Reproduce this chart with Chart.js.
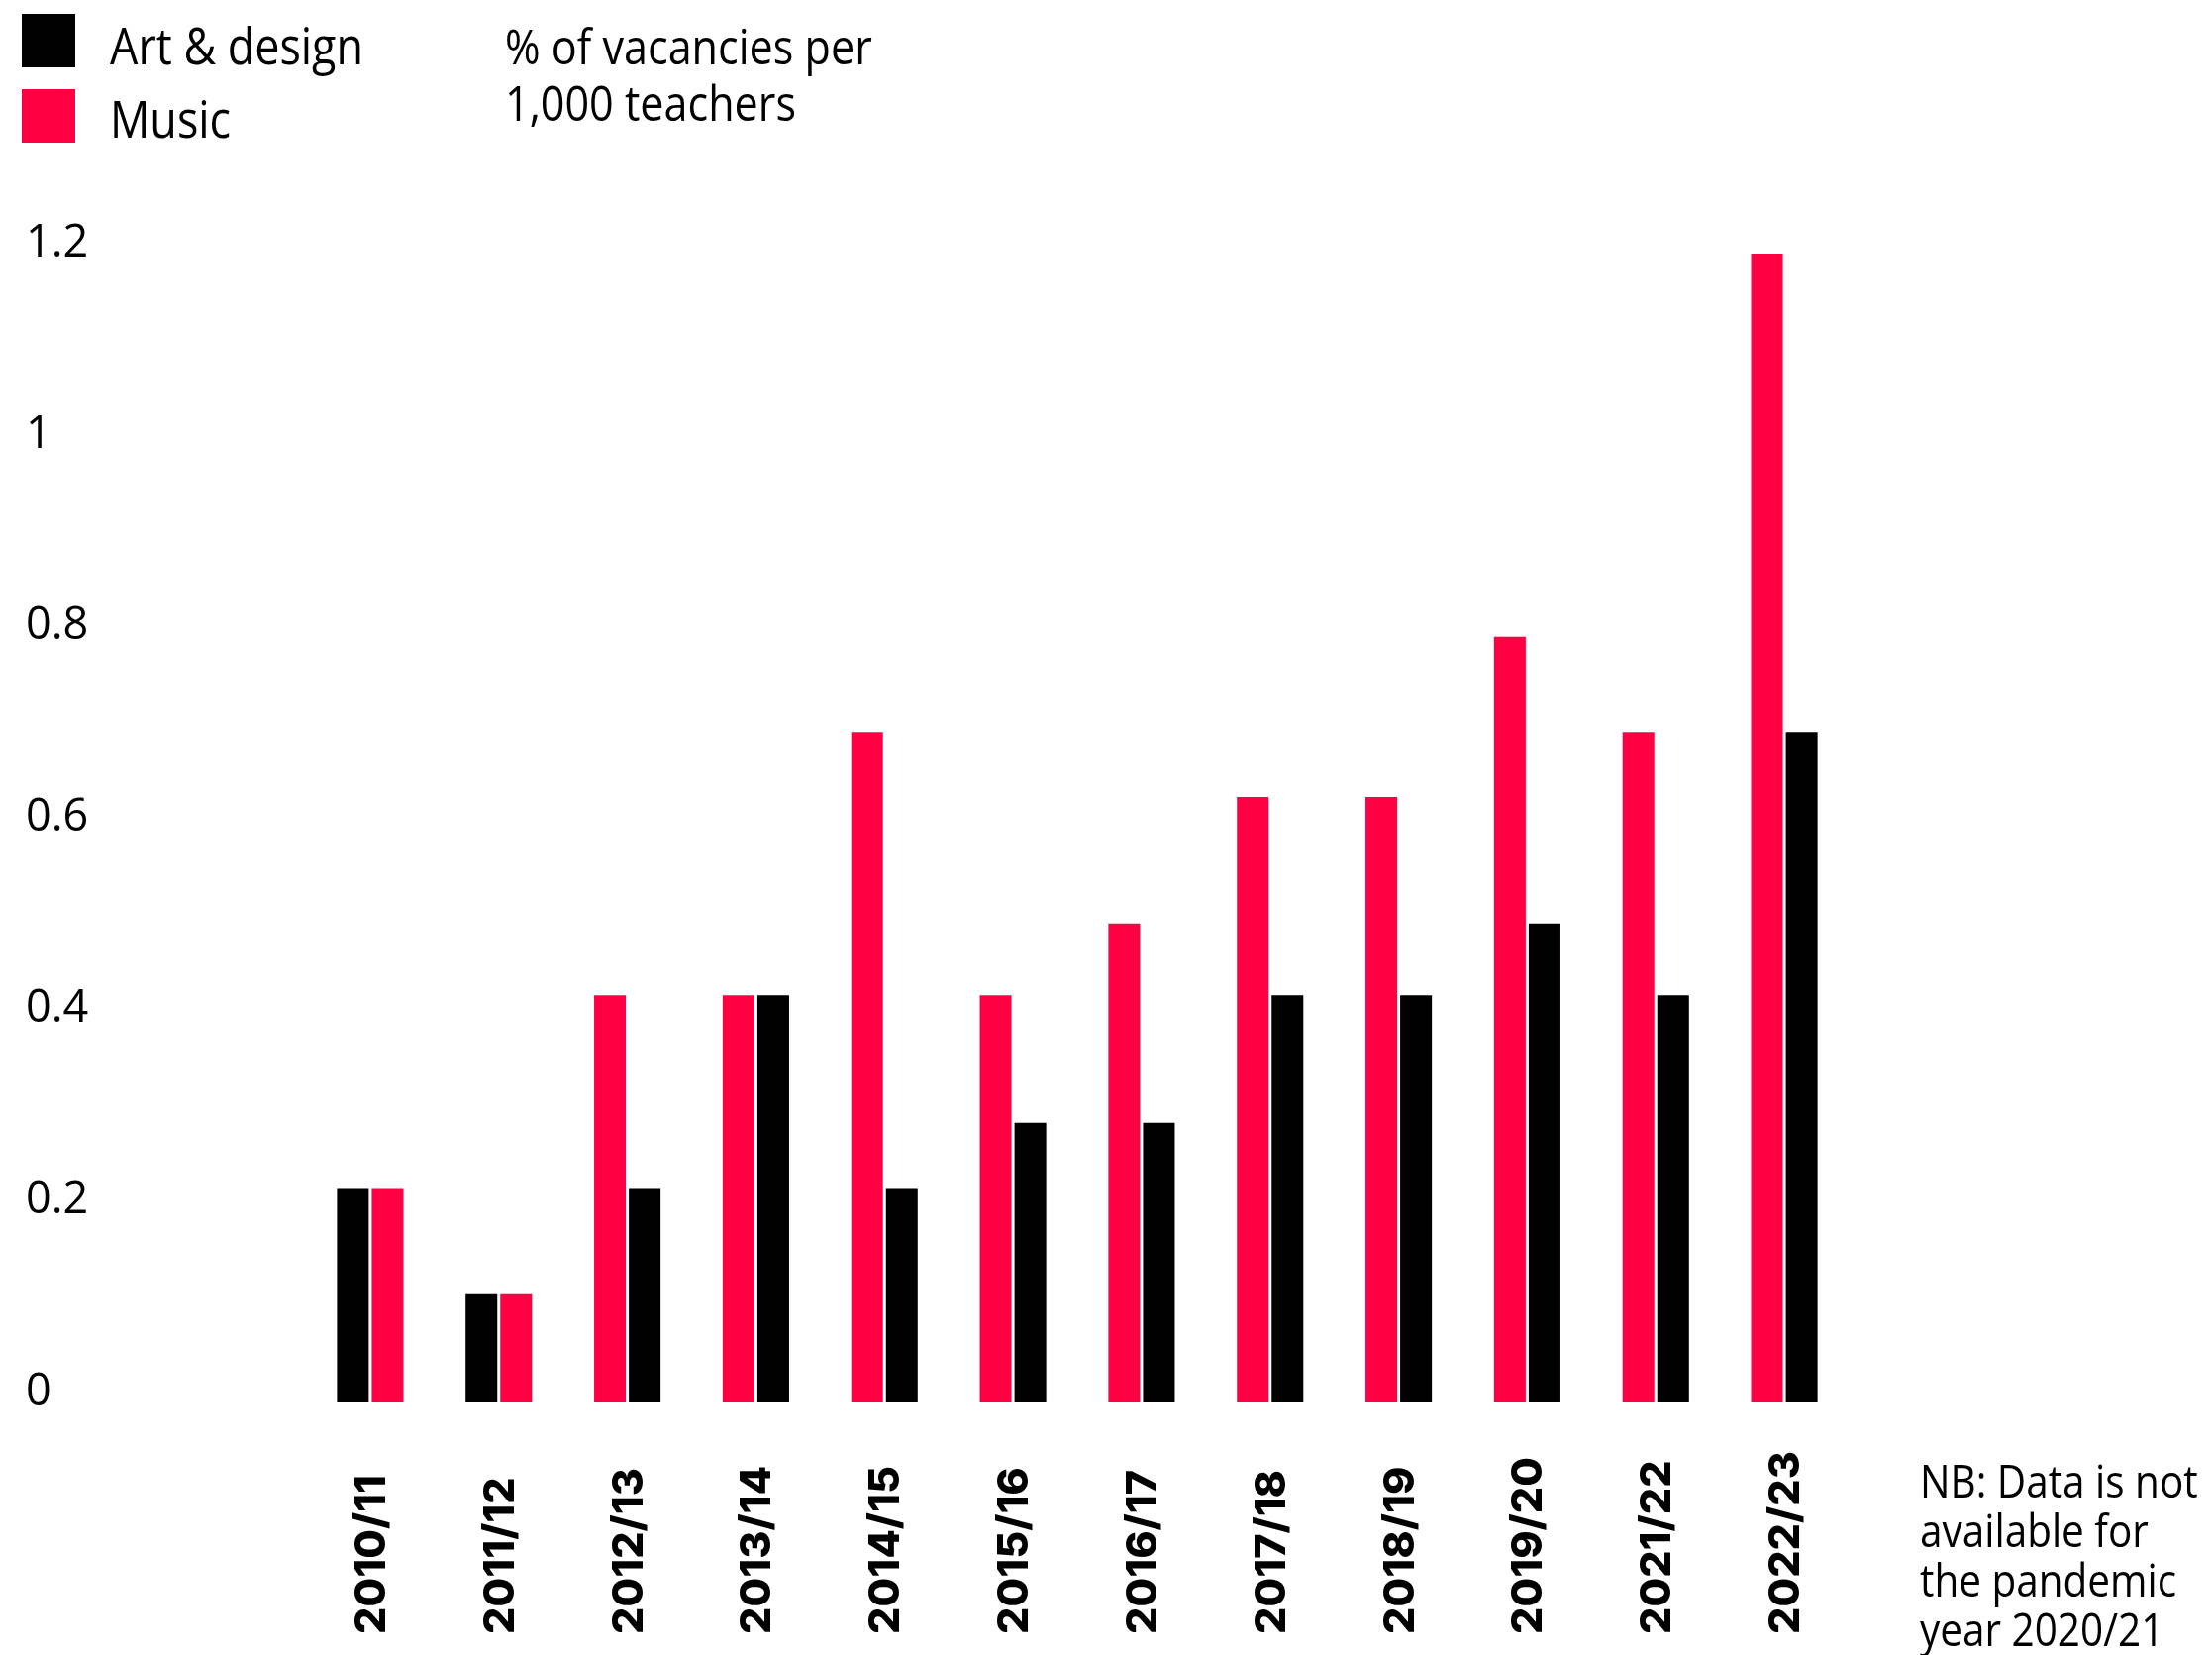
<!DOCTYPE html>
<html>
<head>
<meta charset="utf-8">
<title>Vacancies per 1,000 teachers: art &amp; design and music</title>
<script src="https://cdn.jsdelivr.net/npm/chart.js@4.4.1/dist/chart.umd.min.js"></script>
<style>
	html, body { margin: 0; padding: 0; background: #fff; overflow: hidden; }
	#wrap { position: relative; width: 2234px; height: 1671px; }
	#graphCanvas { position: absolute; left: 0; top: 0; }
	.txt {
		position: absolute;
		font-family: 'Open Sans', 'Noto Sans', sans-serif;
		color: #000;
		white-space: nowrap;
		transform: scaleX(0.88);
		transform-origin: left top;
	}
	.swatch { position: absolute; left: 22px; width: 54px; height: 54px; }
</style>
</head>
<body>
<div id="wrap">
	<canvas id="graphCanvas"></canvas>
	<div id="legend"></div>
	<div class="txt" id="unitNote" style="left:510px; top:18px; font-size:49px; line-height:57px;"></div>
	<div class="txt" id="footNote" style="left:1939px; top:1469px; font-size:46px; line-height:50px;"></div>
</div>
<script>
//	Data
const years = ['2010/11', '2011/12', '2012/13', '2013/14', '2014/15', '2015/16',
	'2016/17', '2017/18', '2018/19', '2019/20', '2021/22', '2022/23'];
const artDesign = [0.224, 0.113, 0.224, 0.425, 0.224, 0.292, 0.292, 0.425, 0.425, 0.50, 0.425, 0.70];
const music = [0.224, 0.113, 0.425, 0.425, 0.70, 0.425, 0.50, 0.632, 0.632, 0.80, 0.70, 1.20];
// the source puts art & design first only in the first two pairs
const artFirst = [true, true, false, false, false, false, false, false, false, false, false, false];

const yTicks = [0, 0.2, 0.4, 0.6, 0.8, 1, 1.2];
const yTickLabels = ['0', '0.2', '0.4', '0.6', '0.8', '1', '1.2'];

const seriesNames = { art: 'Art & design', music: 'Music' };
const unitLines = ['% of vacancies per', '1,000 teachers'];
const footLines = ['NB: Data is not', 'available for', 'the pandemic', 'year 2020/21'];

let plotColors = {
	art: '#000000',
	music: '#ff0042'
};

//	Helpers
var onlyWhere = function (values, wantArtFirst) {
	return values.map(function (v, i) { return (artFirst[i] === wantArtFirst) ? v : null; });
};

// x labels: rotated, all starting from the same bottom line
const yearLabels = {
	id: 'yearLabels',
	afterDraw: function (chart) {
		const ctx = chart.ctx;
		const xs = chart.scales.x;
		ctx.save();
		ctx.font = '800 43px Inter, "Liberation Sans", sans-serif';
		ctx.fillStyle = '#000';
		ctx.textAlign = 'left';
		ctx.textBaseline = 'alphabetic';
		years.forEach(function (yr, i) {
			ctx.save();
			ctx.translate(xs.getPixelForValue(i) + 15, chart.height - 21);
			ctx.rotate(-Math.PI / 2);
			ctx.fillText(yr, 0, 0);
			ctx.restore();
		});
		ctx.restore();
	}
};

//	Legend + notes (plain html text)
var legendHtml = '';
[['art', 14, 20], ['music', 90, 94]].forEach(function (row) {
	legendHtml += '<div class="swatch" style="top:' + row[1] + 'px;background:' + plotColors[row[0]] + '"></div>';
	legendHtml += '<div class="txt" style="left:111px;top:' + row[2] + 'px;font-size:51px;line-height:50px;">' +
		seriesNames[row[0]].replace('&', '&amp;') + '</div>';
});
document.getElementById('legend').innerHTML = legendHtml;
document.getElementById('unitNote').innerHTML = unitLines.join('<br>');
document.getElementById('footNote').innerHTML = footLines.join('<br>');

//	Chart
const barOpts = { categoryPercentage: 0.54, barPercentage: 0.914, borderWidth: 0 };

new Chart(document.getElementById('graphCanvas'), {
	type: 'bar',
	data: {
		labels: years,
		datasets: [
			Object.assign({ label: seriesNames.art, data: onlyWhere(artDesign, true), backgroundColor: plotColors.art, stack: 'first' }, barOpts),
			Object.assign({ label: seriesNames.music, data: onlyWhere(music, false), backgroundColor: plotColors.music, stack: 'first' }, barOpts),
			Object.assign({ label: seriesNames.music, data: onlyWhere(music, true), backgroundColor: plotColors.music, stack: 'second' }, barOpts),
			Object.assign({ label: seriesNames.art, data: onlyWhere(artDesign, false), backgroundColor: plotColors.art, stack: 'second' }, barOpts)
		]
	},
	options: {
		responsive: true,
		maintainAspectRatio: false,
		animation: false,
		layout: { padding: { left: 26, right: 367, top: 256, bottom: 255 } },
		scales: {
			x: {
				display: false
			},
			y: {
				min: 0,
				max: 1.2,
				stacked: true,
				grid: { display: false },
				border: { display: false },
				afterBuildTicks: function (scale) {
					scale.ticks = yTicks.map(function (v) { return { value: v }; });
				},
				afterFit: function (scale) { scale.width = 283; },
				ticks: {
					crossAlign: 'far',
					labelOffset: -10,
					padding: 0,
					color: '#000',
					font: { family: "'Open Sans', sans-serif", size: 45 },
					callback: function (value, index) { return yTickLabels[index]; }
				}
			}
		},
		plugins: {
			legend: { display: false },
			tooltip: { enabled: false }
		}
	},
	plugins: [yearLabels]
});
</script>
</body>
</html>
